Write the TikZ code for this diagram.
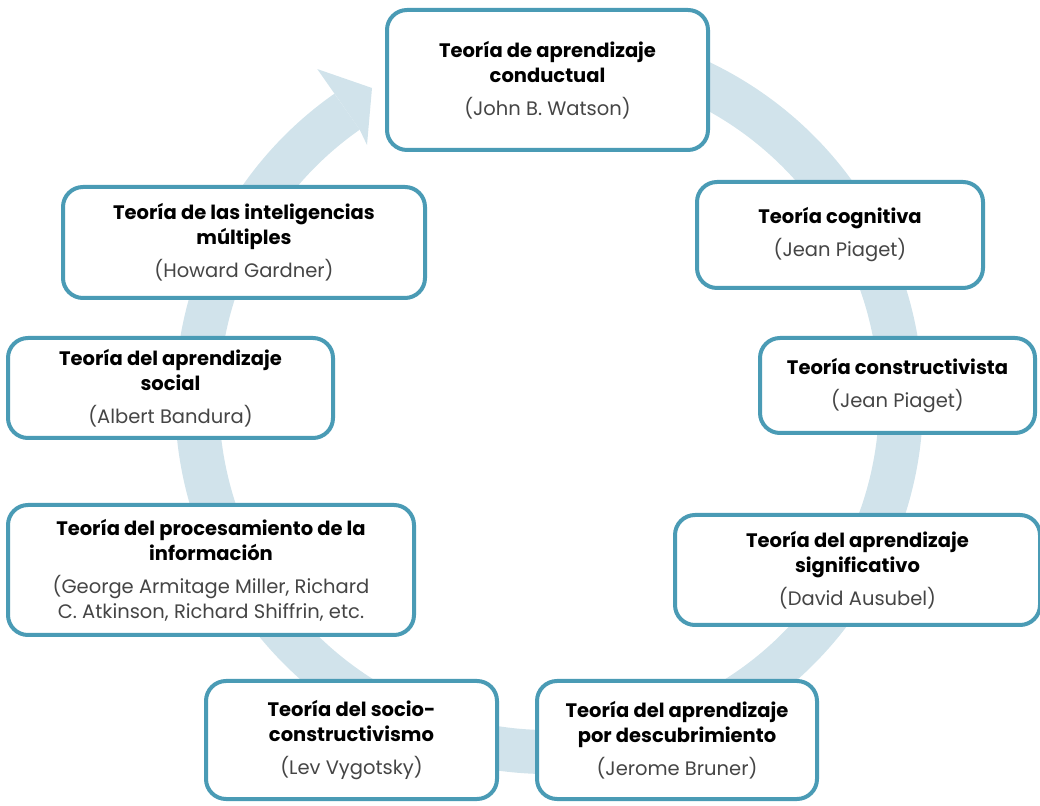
\documentclass[tikz,border=0pt]{standalone}
\usepackage{fontspec}
\setmainfont{Poppins}
\usetikzlibrary{calc}
\definecolor{boxblue}{HTML}{4A9BB5}
\definecolor{bandblue}{HTML}{D1E3EB}
\definecolor{namegray}{HTML}{454545}

\begin{document}
\begin{tikzpicture}[x=1pt,y=1pt,every node/.style={outer sep=0pt},
 theory/.style={draw=boxblue,line width=4pt,rounded corners=20pt,fill=white,
  align=center,inner sep=0pt,font=\fontsize{19.5}{25}\selectfont},
 band/.style={draw=bandblue,line width=44pt}]

 \useasboundingbox (0,0) rectangle (1040,805);
 \coordinate (c) at (549,405);

 % circular arrow behind the boxes
 \draw[band] ($(c)+(100:352)$) arc[start angle=100,end angle=-235,radius=352pt];
 \fill[bandblue] ($(c)+(125:404)$) -- (372,717) -- (367,660)
  -- ($(c)+(125:330)$) -- ($(c)+(125:374)$) -- cycle;

 \node[theory,minimum width=321pt,minimum height=140pt] (t1) at (547.5,725)
  {\textbf{Teoría de aprendizaje}\\\textbf{conductual}\\[8pt]\textcolor{namegray}{(John B. Watson)}};
 \node[theory,minimum width=286pt,minimum height=106pt] (t2) at (840,570)
  {\textbf{Teoría cognitiva}\\[8pt]\textcolor{namegray}{(Jean Piaget)}};
 \node[theory,minimum width=275pt,minimum height=95pt] (t3) at (897.5,419.5)
  {\textbf{Teoría constructivista}\\[8pt]\textcolor{namegray}{(Jean Piaget)}};
 \node[theory,minimum width=365pt,minimum height=110pt] (t4) at (857.5,235)
  {\textbf{Teoría del aprendizaje}\\\textbf{significativo}\\[8pt]\textcolor{namegray}{(David Ausubel)}};
 \node[theory,minimum width=280pt,minimum height=118pt] (t5) at (677,65)
  {\textbf{Teoría del aprendizaje}\\\textbf{por descubrimiento}\\[8pt]\textcolor{namegray}{(Jerome Bruner)}};
 \node[theory,minimum width=291pt,minimum height=118pt] (t6) at (351.5,65)
  {\textbf{Teoría del socio-}\\\textbf{constructivismo}\\[8pt]\textcolor{namegray}{(Lev Vygotsky)}};
 \node[theory,minimum width=406pt,minimum height=130pt] (t7) at (211,235)
  {\textbf{Teoría del procesamiento de la}\\\textbf{información}\\[8pt]\textcolor{namegray}{(George Armitage Miller, Richard}\\\textcolor{namegray}{C. Atkinson, Richard Shiffrin, etc.}};
 \node[theory,minimum width=325pt,minimum height=100pt] (t8) at (170.5,417)
  {\textbf{Teoría del aprendizaje}\\\textbf{social}\\[8pt]\textcolor{namegray}{(Albert Bandura)}};
 \node[theory,minimum width=362pt,minimum height=111pt] (t9) at (244,562.5)
  {\textbf{Teoría de las inteligencias}\\\textbf{múltiples}\\[8pt]\textcolor{namegray}{(Howard Gardner)}};

\end{tikzpicture}
\end{document}
